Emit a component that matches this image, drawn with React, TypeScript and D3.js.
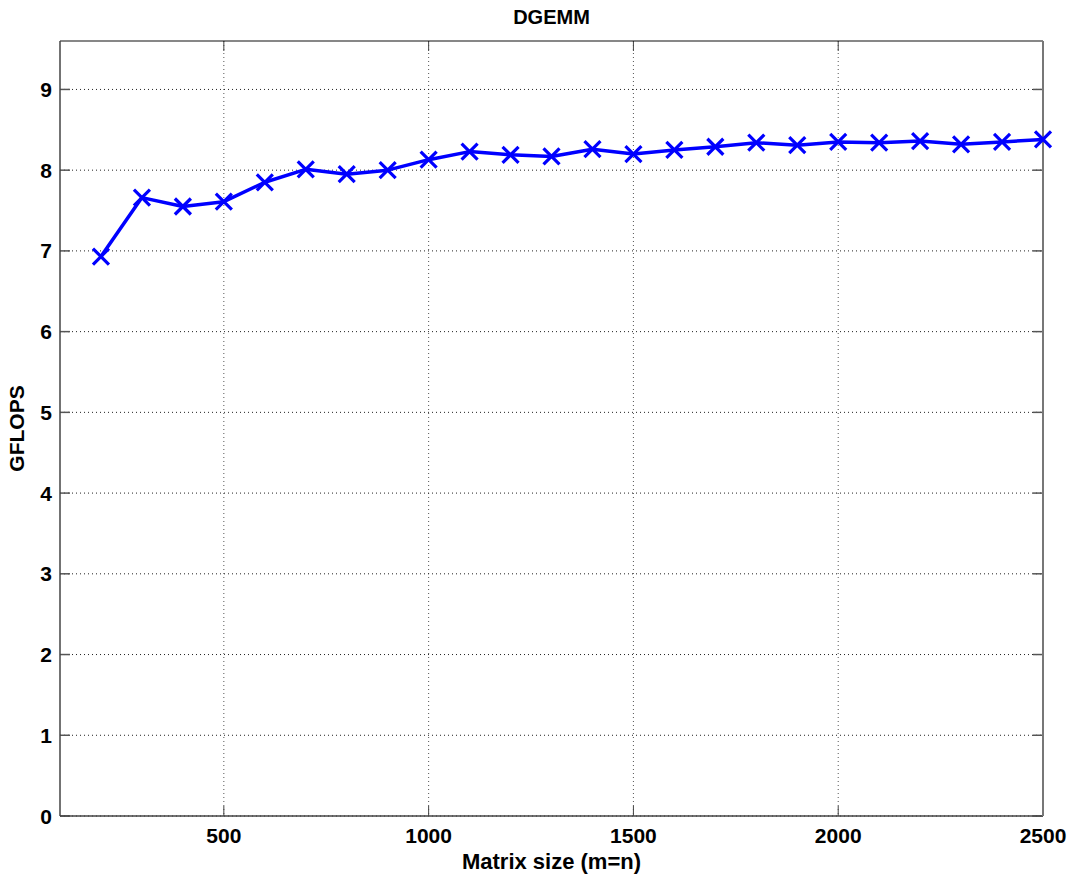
import React from "react";
import * as d3 from "d3";

const sizes = [200, 300, 400, 500, 600, 700, 800, 900, 1000, 1100, 1200, 1300, 1400, 1500, 1600, 1700, 1800, 1900, 2000, 2100, 2200, 2300, 2400, 2500];
const gflops = [6.93, 7.66, 7.55, 7.61, 7.85, 8.01, 7.95, 8.0, 8.13, 8.23, 8.19, 8.17, 8.26, 8.2, 8.25, 8.29, 8.34, 8.31, 8.35, 8.34, 8.36, 8.32, 8.35, 8.38];
const xTicks = [500, 1000, 1500, 2000, 2500];
const yTicks = [0, 1, 2, 3, 4, 5, 6, 7, 8, 9];
const title = "DGEMM";
const xLabel = "Matrix size (m=n)";
const yLabel = "GFLOPS";

const W = 1070, H = 874;
const L = 60, R = 1043, T = 41, B = 816;
const FONT = "'Liberation Sans', Arial, Helvetica, sans-serif";

export default function App() {
  const x = d3.scaleLinear().domain([100, 2500]).range([L, R]);
  const y = d3.scaleLinear().domain([0, 9.6]).range([B, T]);
  const line = d3.line<number>().x((_, i) => x(sizes[i])).y((d) => y(d));
  const tl = 10;
  const m = 8;
  return (
    <svg width={W} height={H} style={{ position: "absolute", left: 0, top: 0, background: "#fff" }}>
      <rect x={0} y={0} width={W} height={H} fill="#fff" />
      {/* grid */}
      {xTicks.map((t) => (
        <line key={"gx" + t} x1={x(t)} x2={x(t)} y1={T} y2={B} stroke="#555" strokeWidth={1} strokeDasharray="1,3" />
      ))}
      {yTicks.map((t) => (
        <line key={"gy" + t} x1={L} x2={R} y1={y(t)} y2={y(t)} stroke="#222" strokeWidth={1} strokeDasharray="1,3" />
      ))}
      {/* ticks */}
      {xTicks.map((t) => (
        <g key={"tx" + t}>
          <line x1={x(t)} x2={x(t)} y1={B} y2={B - tl} stroke="#444" strokeWidth={1} />
          <line x1={x(t)} x2={x(t)} y1={T} y2={T + tl} stroke="#444" strokeWidth={1} />
          <text x={x(t)} y={843} textAnchor="middle" fontFamily={FONT} fontWeight="bold" fontSize={21} fill="#000">{t}</text>
        </g>
      ))}
      {yTicks.map((t) => (
        <g key={"ty" + t}>
          <line x1={L} x2={L + tl} y1={y(t)} y2={y(t)} stroke="#555" strokeWidth={1.5} />
          <line x1={R} x2={R - tl} y1={y(t)} y2={y(t)} stroke="#555" strokeWidth={1.5} />
          <text x={52} y={y(t)} dy="0.36em" textAnchor="end" fontFamily={FONT} fontWeight="bold" fontSize={21} fill="#000">{t}</text>
        </g>
      ))}
      {/* axes box */}
      <line x1={L} x2={R} y1={T} y2={T} stroke="#111" strokeWidth={1.2} />
      <line x1={L} x2={R} y1={B} y2={B} stroke="#444" strokeWidth={1.5} />
      <line x1={L} x2={L} y1={T} y2={B} stroke="#444" strokeWidth={1.5} />
      <line x1={R} x2={R} y1={T} y2={B} stroke="#777" strokeWidth={2} />
      {/* data */}
      <path d={line(gflops) || ""} fill="none" stroke="#0000ff" strokeWidth={3.5} strokeLinejoin="round" />
      {gflops.map((v, i) => {
        const cx = x(sizes[i]);
        const cy = y(v);
        return (
          <path key={"m" + i} d={`M${cx - m},${cy - m}L${cx + m},${cy + m}M${cx - m},${cy + m}L${cx + m},${cy - m}`} stroke="#0000ff" strokeWidth={3.2} fill="none" />
        );
      })}
      {/* labels */}
      <text x={(L + R) / 2} y={24} textAnchor="middle" fontFamily={FONT} fontWeight="bold" fontSize={20} fill="#000">{title}</text>
      <text x={(L + R) / 2} y={869} textAnchor="middle" fontFamily={FONT} fontWeight="bold" fontSize={22} fill="#000">{xLabel}</text>
      <text transform={`translate(24,${(T + B) / 2}) rotate(-90)`} textAnchor="middle" fontFamily={FONT} fontWeight="bold" fontSize={21} fill="#000">{yLabel}</text>
    </svg>
  );
}
